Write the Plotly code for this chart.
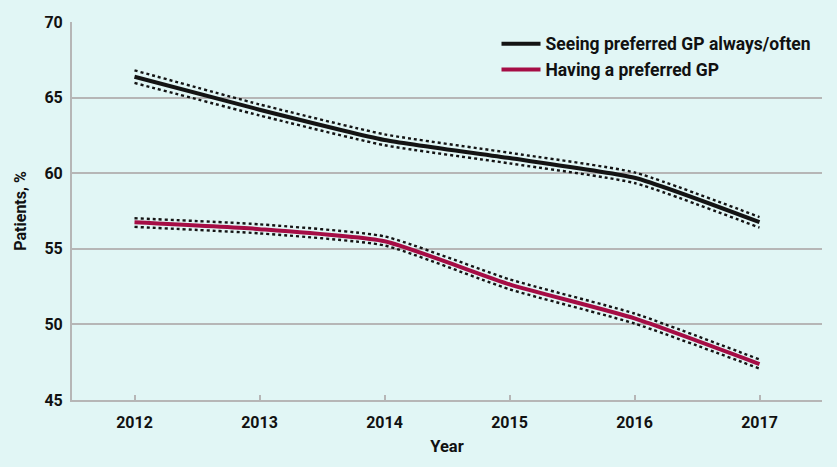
import plotly.graph_objects as go

years = [2012, 2013, 2014, 2015, 2016, 2017]

seeing = [66.38, 64.2, 62.2, 61.0, 59.7, 56.76]
seeing_upper = [66.8, 64.55, 62.57, 61.35, 60.05, 57.1]
seeing_lower = [65.97, 63.82, 61.85, 60.65, 59.35, 56.4]

having = [56.75, 56.3, 55.5, 52.65, 50.4, 47.38]
having_upper = [57.02, 56.62, 55.82, 52.98, 50.72, 47.68]
having_lower = [56.45, 56.02, 55.22, 52.32, 50.06, 47.08]

x_ticks = [2012, 2013, 2014, 2015, 2016, 2017]
y_ticks = [45, 50, 55, 60, 65, 70]

BG = "#e1f6f5"
GRID = "#b6b6b6"
BLACK = "#141414"
RED = "#a50d45"
FONT = "Roboto"

fig = go.Figure()
line_shape = dict(shape="spline", smoothing=0.5)

for vals in (seeing_upper, seeing_lower, having_upper, having_lower):
    fig.add_trace(go.Scatter(
        x=years, y=vals, mode="lines", showlegend=False, hoverinfo="skip",
        line=dict(color=BLACK, width=2.4, dash="dot", **line_shape),
    ))

fig.add_trace(go.Scatter(
    x=years, y=seeing, mode="lines", name="Seeing preferred GP always/often",
    legendgroup="a", line=dict(color=BLACK, width=4, **line_shape),
))
fig.add_trace(go.Scatter(
    x=years, y=having, mode="lines", name="Having a preferred GP",
    legendgroup="b", line=dict(color=RED, width=4, **line_shape),
))

fig.update_layout(
    width=837, height=467,
    paper_bgcolor=BG, plot_bgcolor=BG,
    margin=dict(l=72, r=15, t=22, b=67),
    font=dict(family=FONT, size=14, color="#111111", weight=700),
    legend=dict(
        x=0.566, y=0.99, xanchor="left", yanchor="top",
        bgcolor="rgba(0,0,0,0)", tracegroupgap=0, itemwidth=39,
        font=dict(family=FONT, size=17.5, color="#111111", weight=700),
    ),
    xaxis=dict(
        range=[2011.5, 2017.5],
        tickvals=x_ticks + [2017.5], ticktext=[str(t) for t in x_ticks] + [""],
        ticks="inside", ticklen=5, tickwidth=2, tickcolor=GRID,
        showline=True, linecolor=GRID, linewidth=2,
        showgrid=False, zeroline=False, automargin=False,
        ticklabelstandoff=7,
        tickfont=dict(family=FONT, size=16, weight=700),
        title=dict(text="Year", font=dict(family=FONT, size=16.5, weight=700), standoff=9),
    ),
    yaxis=dict(
        range=[45, 70], tickvals=y_ticks,
        showline=True, linecolor=GRID, linewidth=2,
        showgrid=True, gridcolor=GRID, gridwidth=2,
        zeroline=False, ticks="", ticklabelstandoff=4, automargin=False,
        tickfont=dict(family=FONT, size=16, weight=700),
        title=dict(text="Patients, %", font=dict(family=FONT, size=16, weight=700), standoff=14),
    ),
)

fig.write_html("out.html", config={"displayModeBar": False},
               post_script="document.body.style.margin='0';")
